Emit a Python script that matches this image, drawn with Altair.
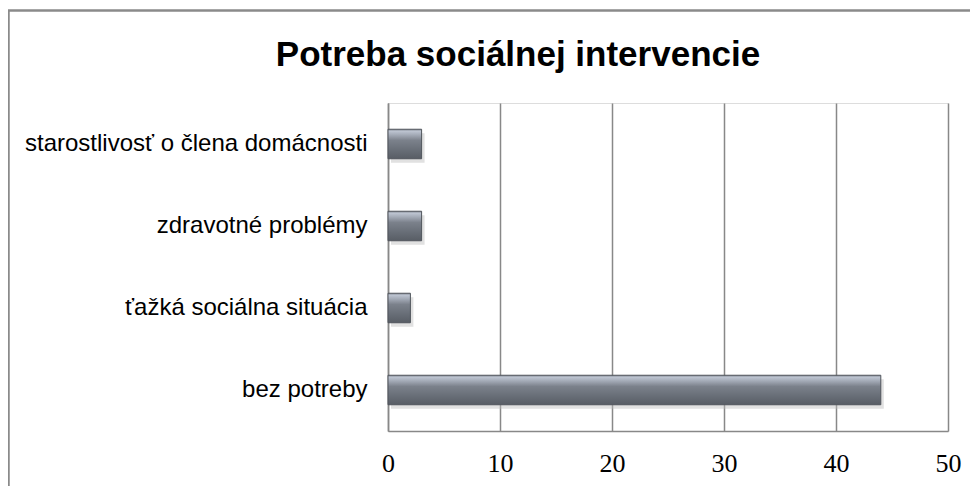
import altair as alt
import pandas as pd

# ---- data ----
categories = [
    "starostlivosť o člena domácnosti",
    "zdravotné problémy",
    "ťažká sociálna situácia",
    "bez potreby",
]
values = [3, 3, 2, 44]
x_ticks = [0, 10, 20, 30, 40, 50]
title_text = "Potreba sociálnej intervencie"

df = pd.DataFrame({"category": categories, "value": values})
title_df = pd.DataFrame({"t": [title_text]})
frame_df = pd.DataFrame({"f": [1]})

W, H = 560, 328
PAD = {"left": 380, "top": 95, "right": 22, "bottom": 55}
GRID = "#888888"

bar_gradient = alt.Gradient(
    gradient="linear", x1=0, y1=0, x2=0, y2=1,
    stops=[
        alt.GradientStop(color="#858b95", offset=0),
        alt.GradientStop(color="#bcc3d0", offset=0.07),
        alt.GradientStop(color="#a2a9b5", offset=0.2),
        alt.GradientStop(color="#7b818b", offset=0.38),
        alt.GradientStop(color="#676d76", offset=0.72),
        alt.GradientStop(color="#585d65", offset=1),
    ],
)

y_enc = alt.Y(
    "category:N",
    sort=categories,
    scale=alt.Scale(paddingInner=0.64, paddingOuter=0.32),
    axis=alt.Axis(
        title=None, labelFont="Liberation Sans", labelFontSize=24,
        labelColor="black", labelPadding=21, ticks=False, domain=True,
        domainColor=GRID, domainWidth=1.5, labelLimit=500, grid=False,
    ),
)
x_enc = alt.X(
    "value:Q",
    scale=alt.Scale(domain=[0, 50], nice=False),
    axis=alt.Axis(
        values=x_ticks, title=None, labelFont="Liberation Serif",
        labelFontSize=26, labelColor="black", labelPadding=19, ticks=False,
        domain=True, domainColor=GRID, domainWidth=1.5, grid=True,
        gridColor=GRID, gridWidth=1.5, labelFlush=False,
    ),
)

shadow = alt.Chart(df).mark_bar(
    color="#bdbdbd", opacity=0.45, xOffset=3, yOffset=4
).encode(x=x_enc, y=y_enc)

bars = alt.Chart(df).mark_bar(
    color=bar_gradient, stroke="#50555c", strokeWidth=1
).encode(x=x_enc, y=y_enc)

title = alt.Chart(title_df).mark_text(
    font="Liberation Sans", fontSize=35, fontWeight="bold", color="black",
    align="center", baseline="alphabetic",
).encode(text="t:N", x=alt.value(130), y=alt.value(-37))

frame = alt.Chart(frame_df).mark_rect(
    filled=False, stroke="#8a8a8a", strokeWidth=2.5
).encode(
    x=alt.value(-379.5), x2=alt.value(2000),
    y=alt.value(-92.5), y2=alt.value(2000),
)

chart = alt.layer(frame, shadow, bars, title).properties(
    width=W, height=H, padding=PAD,
    autosize=alt.AutoSizeParams(type="none"),
).configure_view(stroke=None).configure(background="white")

chart.save("out.html", embed_options={"renderer": "svg", "actions": False})
